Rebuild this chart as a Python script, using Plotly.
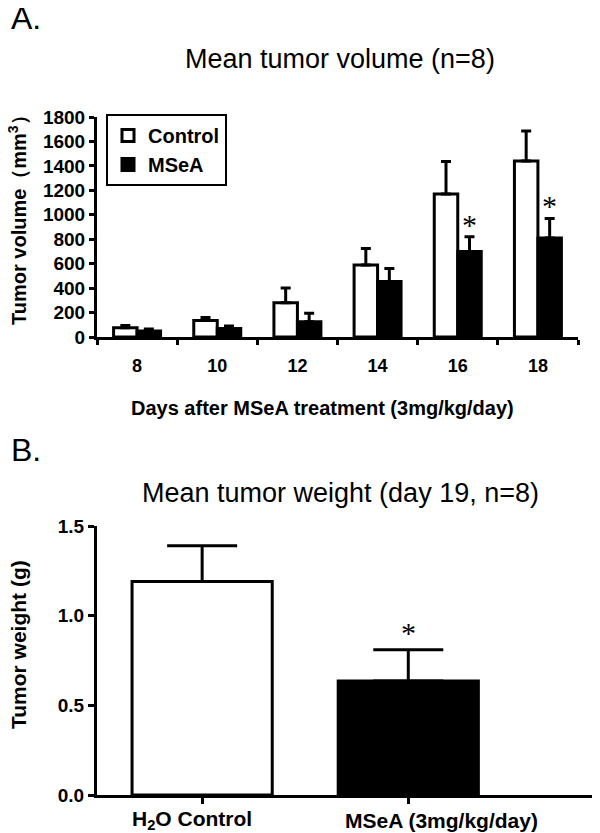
import plotly.graph_objects as go

W, H = 600, 833
OFF = 8  # page body margin in the browser

# ---- Panel A data ----
days = ["8", "10", "12", "14", "16", "18"]
control_vol = [75, 135, 280, 590, 1170, 1440]
control_err = [20, 25, 120, 135, 265, 245]
msea_vol = [50, 70, 125, 455, 700, 810]
msea_err = [15, 20, 70, 105, 120, 160]
sig_days = ["16", "18"]

# ---- Panel B data ----
groups = ["H<sub>2</sub>O Control", "MSeA (3mg/kg/day)"]
weight = [1.19, 0.635]
weight_err = [0.20, 0.175]
weight_colors = ["white", "black"]
sig_groups = [1]
label_shift = [-10, 33]

FONT = "Liberation Sans, Arial, sans-serif"
FW, FH = W - OFF, H - OFF

def px_x(p):
    return (p - OFF) / FW

def px_y(p):
    return (H - p) / FH

fig = go.Figure()

fig.add_trace(go.Bar(
    x=days, y=control_vol, name="Control",
    marker=dict(color="white", line=dict(color="black", width=3)),
    error_y=dict(type="data", array=control_err, arrayminus=[0] * len(days),
                 symmetric=False, color="black", thickness=3, width=5),
    xaxis="x", yaxis="y",
))
fig.add_trace(go.Bar(
    x=days, y=msea_vol, name="MSeA",
    marker=dict(color="black", line=dict(color="black", width=3)),
    error_y=dict(type="data", array=msea_err, arrayminus=[0] * len(days),
                 symmetric=False, color="black", thickness=3, width=5),
    xaxis="x", yaxis="y",
))

fig.add_trace(go.Bar(
    x=list(range(len(groups))), y=weight, width=0.68, showlegend=False,
    marker=dict(color=weight_colors, line=dict(color="black", width=3)),
    error_y=dict(type="data", array=weight_err, arrayminus=[0] * len(groups),
                 symmetric=False, color="black", thickness=3, width=35),
    xaxis="x2", yaxis="y2",
))

def axis_common(size):
    return dict(showline=True, linecolor="black", linewidth=3, ticks="outside",
                tickcolor="black", tickwidth=3, showgrid=False, zeroline=False,
                automargin=False,
                tickfont=dict(family=FONT, size=size, color="black", weight="bold"))

fig.update_layout(
    width=FW, height=FH, margin=dict(l=0, r=0, t=0, b=0),
    paper_bgcolor="white", plot_bgcolor="white",
    barmode="group", bargap=0.414, bargroupgap=0,
    showlegend=True,
    legend=dict(x=px_x(106), y=px_y(114), xanchor="left", yanchor="top",
                bordercolor="black", borderwidth=2, bgcolor="white",
                font=dict(family=FONT, size=20, color="black", weight="bold"),
                itemwidth=30, tracegroupgap=0),
    xaxis=dict(domain=[px_x(97), px_x(578)], anchor="y", type="category",
               range=[-0.5, 5.5], tickson="boundaries", ticklen=5,
               ticklabelstandoff=10, **axis_common(18)),
    yaxis=dict(domain=[px_y(337), px_y(117)], anchor="x", range=[0, 1800],
               dtick=200, ticklen=5, **axis_common(19)),
    xaxis2=dict(domain=[px_x(97), 1.0], anchor="y2", range=[-0.51, 1.93],
                tickvals=list(range(len(groups))), showticklabels=False, ticklen=6,
                **axis_common(18)),
    yaxis2=dict(domain=[px_y(795), px_y(526)], anchor="x2", range=[0, 1.5],
                tickvals=[0, 0.5, 1.0, 1.5], tickformat=".1f", ticklen=6,
                **axis_common(19)),
)

ann = []
def text(x, y, s, size, bold=False, angle=0, fam=FONT, **kw):
    ann.append(dict(x=px_x(x), y=px_y(y), xref="paper", yref="paper", text=s,
                    showarrow=False, textangle=angle,
                    font=dict(family=fam, size=size, color="black",
                              weight="bold" if bold else "normal"), **kw))

text(9, 18, "A.", 32, xanchor="left", yanchor="middle")
text(340, 59, "Mean tumor volume (n=8)", 27, xanchor="center", yanchor="middle")
text(18, 215, "Tumor volume（mm<sup>3</sup>）", 20, bold=True, angle=-90,
     xanchor="center", yanchor="middle")
text(322, 408, "Days after MSeA treatment (3mg/kg/day)", 20, bold=True,
     xanchor="center", yanchor="middle")

text(9, 450, "B.", 32, xanchor="left", yanchor="middle")
text(340, 493, "Mean tumor weight (day 19, n=8)", 27, xanchor="center", yanchor="middle")
text(18, 645, "Tumor weight (g)", 21, bold=True, angle=-90,
     xanchor="center", yanchor="middle")

for i, g in enumerate(groups):
    ann.append(dict(x=i, y=px_y(820), xref="x2", yref="paper", text=g,
                    showarrow=False, xshift=label_shift[i],
                    xanchor="center", yanchor="middle",
                    font=dict(family=FONT, size=21, color="black", weight="bold")))

STAR = "Liberation Serif, Times New Roman, serif"
for d in sig_days:
    i = days.index(d)
    ann.append(dict(x=i, y=msea_vol[i] + msea_err[i], xref="x", yref="y", text="*",
                    showarrow=False, xshift=12, yshift=-6, yanchor="bottom",
                    font=dict(family=STAR, size=30, color="black")))
for i in sig_groups:
    ann.append(dict(x=i, y=weight[i] + weight_err[i], xref="x2", yref="y2", text="*",
                    showarrow=False, yshift=-1, yanchor="bottom",
                    font=dict(family=STAR, size=30, color="black")))

fig.update_layout(annotations=ann)
fig.write_html("out.html")
